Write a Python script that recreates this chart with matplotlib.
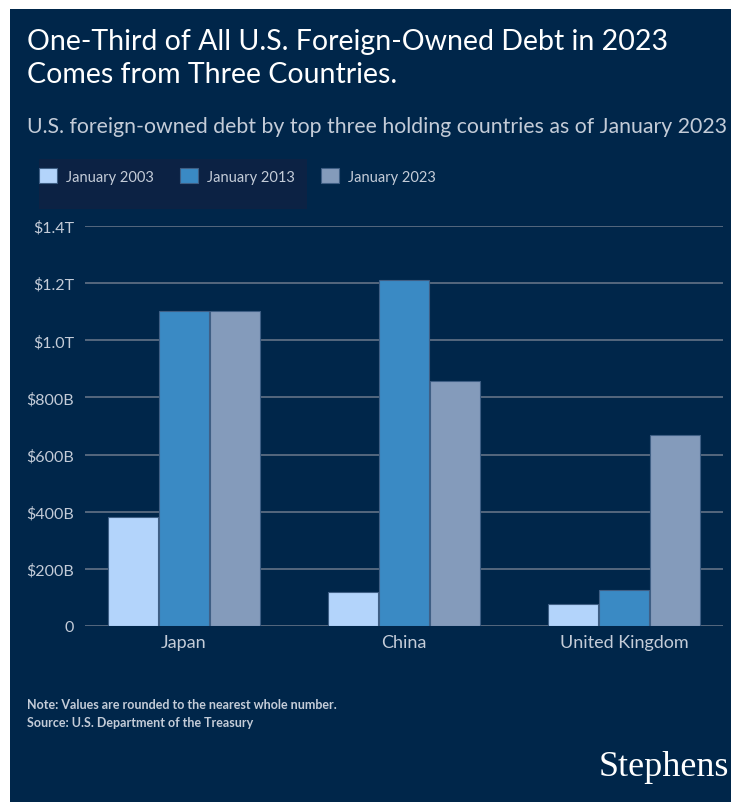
import matplotlib
matplotlib.use("Agg")
import matplotlib.pyplot as plt
from matplotlib.patches import Rectangle
import numpy as np

# data, in trillions of dollars
countries = ["Japan", "China", "United Kingdom"]
series_names = ["January 2003", "January 2013", "January 2023"]
jan_2003 = [0.381, 0.119, 0.077]
jan_2013 = [1.103, 1.212, 0.125]
jan_2023 = [1.104, 0.858, 0.667]
tick_vals = [0, 0.2, 0.4, 0.6, 0.8, 1.0, 1.2, 1.4]
tick_labels = ["0", "$200B", "$400B", "$600B", "$800B", "$1.0T", "$1.2T", "$1.4T"]

bg = "#00264a"
colors = ["#b3d4fb", "#3a8ac4", "#849bbb"]
light = "#c4ccd8"

plt.rcParams["font.family"] = ["Lato", "DejaVu Sans"]

W, H = 740, 803
fig = plt.figure(figsize=(W / 100, H / 100), dpi=100, facecolor="white")

# dark panel with white margin
fig.patches.append(Rectangle((10 / W, 0), 721 / W, 793 / H, transform=fig.transFigure,
                             facecolor=bg, edgecolor="none", zorder=-10))
# legend box
fig.patches.append(Rectangle((39 / W, 1 - 210 / H), 268 / W, 50 / H, transform=fig.transFigure,
                             facecolor="#0c2244", edgecolor="none", zorder=-5))

ax = fig.add_axes([85 / W, 1 - 627 / H, 638 / W, 400 / H])
ax.set_facecolor("none")

x = np.arange(len(countries))
bw = 0.227
for i, vals in enumerate([jan_2003, jan_2013, jan_2023]):
    ax.bar(x + (i - 1) * (bw + 0.004), vals, width=bw, color=colors[i],
           edgecolor="#3f5f85", linewidth=0.8, label=series_names[i], zorder=3)

ax.set_xlim(-0.45, 2.45)
ax.set_ylim(0, 1.4)
ax.set_yticks(tick_vals)
ax.set_yticklabels(tick_labels)
ax.set_xticks(x)
ax.set_xticklabels(countries)
for v in tick_vals:
    ax.axhline(v, color="#5b6c82", linewidth=1.3, zorder=1)
for s in ax.spines.values():
    s.set_visible(False)
ax.tick_params(axis="y", length=0, pad=8, labelsize=11.5, labelcolor=light)
ax.tick_params(axis="x", length=0, pad=6, labelsize=13, labelcolor=light)

fig.legend(loc="upper left", bbox_to_anchor=(39 / W, 1 - 169 / H), ncol=3, frameon=False,
           fontsize=10.5, labelcolor=light, handlelength=1.25, handleheight=1.25,
           handletextpad=0.6, columnspacing=1.8, borderpad=0, borderaxespad=0)

fig.text(27 / W, 1 - 58.5 / H, "One-Third of All U.S. Foreign-Owned Debt in 2023\nComes from Three Countries.",
         color="white", fontsize=20.5, va="center", ha="left", linespacing=1.3)
fig.text(27 / W, 1 - 127 / H, "U.S. foreign-owned debt by top three holding countries as of January 2023",
         color=light, fontsize=15.3, va="center", ha="left")
fig.text(27 / W, 1 - 705 / H, "Note: Values are rounded to the nearest whole number.",
         color=light, fontsize=9, va="center", ha="left", fontweight="bold")
fig.text(27 / W, 1 - 723 / H, "Source: U.S. Department of the Treasury",
         color=light, fontsize=9, va="center", ha="left", fontweight="bold")
fig.text(729 / W, 1 - 768 / H, "Stephens", color="white", fontsize=26, va="center", ha="right",
         family=["Liberation Serif", "DejaVu Serif"])

fig.savefig("out.png", dpi=100, facecolor="white")
